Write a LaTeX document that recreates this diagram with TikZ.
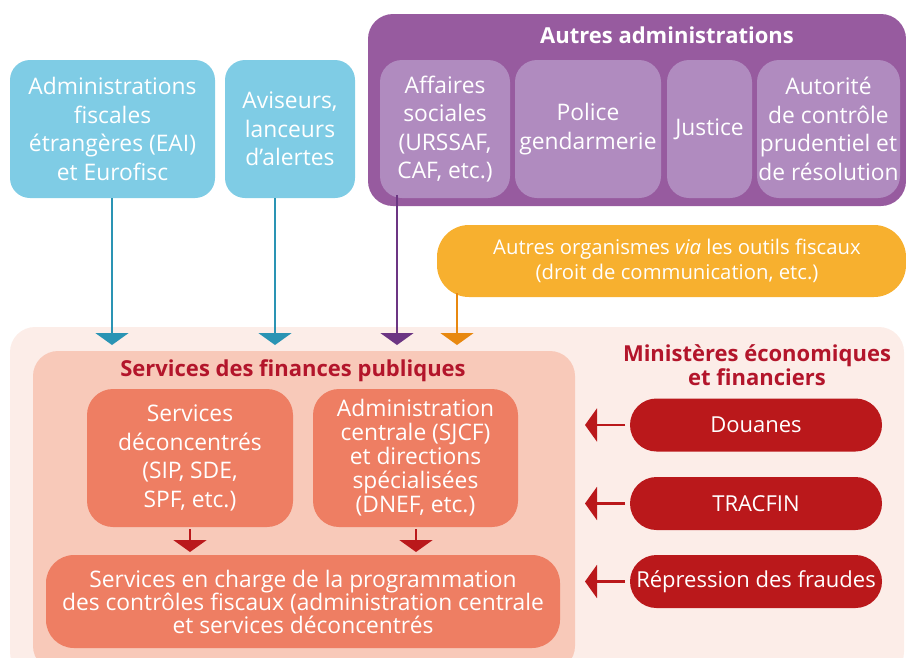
\documentclass[tikz,border=0pt]{standalone}
\usepackage{fontspec}
\setmainfont{Open Sans}
\usetikzlibrary{arrows.meta}
\definecolor{cbluebox}{HTML}{7FCCE5}
\definecolor{cbluearrow}{HTML}{2A94B4}
\definecolor{cpurpleout}{HTML}{975B9F}
\definecolor{cpurplein}{HTML}{B08BBF}
\definecolor{cpurplearrow}{HTML}{6C3583}
\definecolor{corangebox}{HTML}{F7B02F}
\definecolor{corangearrow}{HTML}{E8880F}
\definecolor{cpinkbg}{HTML}{FCEDE8}
\definecolor{csfpbg}{HTML}{F8C9B9}
\definecolor{csalmon}{HTML}{EE7E63}
\definecolor{cdarkred}{HTML}{BA181B}
\definecolor{ctitlered}{HTML}{B3152B}
\begin{document}
\begin{tikzpicture}[x=1pt,y=-1pt,
  every node/.style={inner sep=0pt, outer sep=0pt},
  basebox/.style={rectangle, align=center, text=white, font=\fontsize{22.8}{28.5}\selectfont},
  bluebox/.style={basebox, fill=cbluebox, rounded corners=20pt, minimum height=138pt},
  pinbox/.style={basebox, fill=cpurplein, rounded corners=22pt, minimum height=138pt},
  salbox/.style={basebox, fill=csalmon, rounded corners=26pt},
  pill/.style={basebox, fill=cdarkred, rounded corners=26.5pt, minimum height=53pt, minimum width=252pt, font=\fontsize{22}{26}\selectfont},
  redtitle/.style={align=center, text=ctitlered, font=\fontsize{22}{24}\selectfont\bfseries},
  conn/.style={line width=2pt, -{Triangle[width=33pt,length=12pt]}},
  redconn/.style={conn, draw=cdarkred, line width=2.5pt}]
\useasboundingbox (0,0) rectangle (906,657);
\clip (0,0) rectangle (906,657);
% containers
\node[fill=cpinkbg, rounded corners=25pt, minimum width=894pt, minimum height=350pt] (bg) at (457,502) {};
\node[fill=csfpbg, rounded corners=25pt, minimum width=542pt, minimum height=320pt] (sfp) at (304,511) {};
\node[fill=cpurpleout, rounded corners=25pt, minimum width=538pt, minimum height=192pt] (pa) at (637,110) {};
\node[text=white, font=\fontsize{22}{24}\selectfont\bfseries] (patitle) at (667,35) {Autres administrations};
% blue boxes
\node[bluebox, minimum width=205pt] (b1) at (112.5,129) {Administrations\\fiscales\\étrangères (EAI)\\et Eurofisc};
\node[bluebox, minimum width=130pt] (b2) at (290,129) {Aviseurs,\\lanceurs\\d’alertes};
% purple inner boxes
\node[pinbox, minimum width=130pt] (p1) at (445,129) {Affaires\\sociales\\(URSSAF,\\CAF, etc.)};
\node[pinbox, minimum width=146pt] (p2) at (588,129) {Police\\gendarmerie};
\node[pinbox, minimum width=85pt] (p3) at (709.5,129) {Justice};
\node[pinbox, minimum width=143pt] (p4) at (828.5,129) {Autorité\\de contrôle\\prudentiel et\\de résolution};
% orange box
\node[basebox, fill=corangebox, rounded corners=32pt, minimum width=469pt, minimum height=72pt, font=\fontsize{20.3}{25}\selectfont] (org) at (671.5,261) {\hspace*{11pt}Autres organismes \textit{via} les outils fiscaux\\\hspace*{11pt}(droit de communication, etc.)};
% SFP
\node[redtitle] (sfptitle) at (293,371) {Services des finances publiques};
\node[salbox, minimum width=206pt, minimum height=138pt] (s1) at (190,458) {Services\\déconcentrés\\(SIP, SDE,\\SPF, etc.)};
\node[salbox, minimum width=205pt, minimum height=138pt, font=\fontsize{22.8}{24}\selectfont] (s2) at (415.5,458) {Administration\\centrale (SJCF)\\et directions\\spécialisées\\(DNEF, etc.)};
\node[salbox, minimum width=514pt, minimum height=93pt, rounded corners=28pt, font=\fontsize{22.8}{23}\selectfont] (s3) at (303,601.5) {Services en charge de la programmation\\des contrôles fiscaux (administration centrale\\et services déconcentrés};
% Ministères
\node[redtitle] (mintitle) at (757,365) {Ministères économiques\\et financiers};
\node[pill] (r1) at (756,425) {Douanes};
\node[pill] (r2) at (756,503.5) {TRACFIN};
\node[pill] (r3) at (756,581.5) {Répression des fraudes};
% arrow end points
\coordinate (t1) at (112,345);
\coordinate (t2) at (275,345);
\coordinate (t3) at (397,345);
\coordinate (t4) at (457,345);
\coordinate (d1) at (190,552);
\coordinate (d2) at (416,552);
\coordinate (l1) at (585,425);
\coordinate (l2) at (585,503.5);
\coordinate (l3) at (585,581.5);
% connectors
\draw[conn, draw=cbluearrow, fill=cbluearrow] (b1.south -| t1) -- (t1);
\draw[conn, draw=cbluearrow, fill=cbluearrow] (b2.south -| t2) -- (t2);
\draw[conn, draw=cpurplearrow, fill=cpurplearrow] ([yshift=3pt]p1.south -| t3) -- (t3);
\draw[conn, draw=corangearrow, fill=corangearrow] ([yshift=4pt]org.south -| t4) -- (t4);
\draw[redconn, fill=cdarkred] ([yshift=-2pt]s1.south -| d1) -- (d1);
\draw[redconn, fill=cdarkred] ([yshift=-2pt]s2.south -| d2) -- (d2);
\draw[redconn, fill=cdarkred] ([xshift=-5pt]r1.west) -- (l1);
\draw[redconn, fill=cdarkred] ([xshift=-5pt]r2.west) -- (l2);
\draw[redconn, fill=cdarkred] ([xshift=-5pt]r3.west) -- (l3);
\end{tikzpicture}
\end{document}
